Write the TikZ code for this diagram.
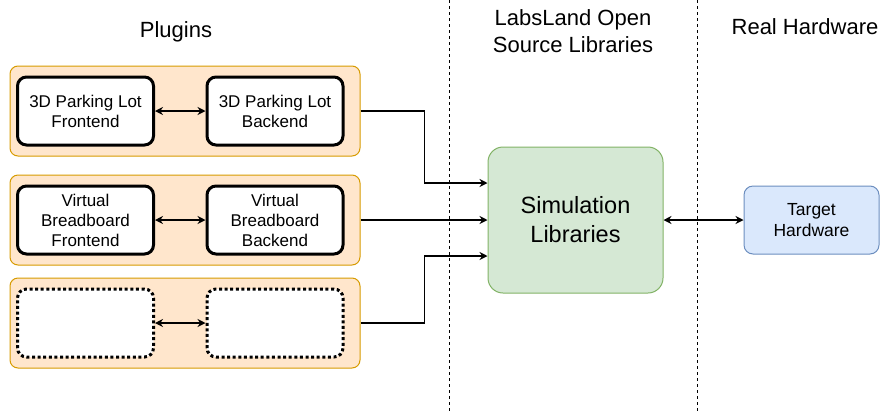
\documentclass[tikz,border=0pt]{standalone}
\usepackage{fontspec}
\setmainfont{Liberation Sans}
\usetikzlibrary{arrows.meta, calc, positioning}
\definecolor{plugFill}{HTML}{FFE6CC}
\definecolor{plugLine}{HTML}{D79B00}
\definecolor{simFill}{HTML}{D5E8D4}
\definecolor{simLine}{HTML}{82B366}
\definecolor{hwFill}{HTML}{DAE8FC}
\definecolor{hwLine}{HTML}{6C8EBF}
\tikzset{
    plugGroup/.style={rectangle, rounded corners=8pt, draw=plugLine, fill=plugFill, line width=1pt, minimum width=350pt, minimum height=90pt},
    plugBox/.style={rectangle, rounded corners=9pt, draw, fill=white, line width=3pt, minimum width=136pt, minimum height=68pt, align=center, font=\fontsize{17}{20}\selectfont},
    plugEmpty/.style={plugBox, dash pattern=on 3pt off 2.6pt},
    simBox/.style={rectangle, rounded corners=15pt, draw=simLine, fill=simFill, line width=1pt, minimum width=175pt, minimum height=146pt, align=center, font=\fontsize{23.5}{29}\selectfont},
    hwBox/.style={rectangle, rounded corners=9pt, draw=hwLine, fill=hwFill, line width=1pt, minimum width=135pt, minimum height=68pt, align=center, font=\fontsize{17.5}{21}\selectfont},
    header/.style={align=center, font=\fontsize{22}{27}\selectfont},
    flowEdge/.style={-{Stealth[length=8pt, width=8pt]}, line width=1.2pt},
    duplexEdge/.style={{Stealth[length=8pt, width=8pt]}-{Stealth[length=8pt, width=8pt]}, line width=1.2pt},
    laneSep/.style={dash pattern=on 3pt off 3pt, line width=1pt},
}
\newcommand{\pluginRow}[5][plugBox]{
    % group, then frontend and backend
    \node[plugGroup] (#2) at (185, #3) {};
    \node[#1] (#2F) at (85.5, #3) {#4};
    \node[#1] (#2B) at (275, #3) {#5};
    \draw[duplexEdge] (#2F) -- (#2B);
}

\begin{document}
\begin{tikzpicture}[x=1pt, y=-1pt]
        \useasboundingbox (0, 0) rectangle (883, 413);

        % lanes
        \draw[laneSep] (449, 0) -- (449, 413);
        \draw[laneSep] (697, 0) -- (697, 413);
        \node[header] (plugTitle) at (176, 32) {Plugins};
        \node[header] (libTitle) at (573, 31) {LabsLand Open\\Source Libraries};
        \node[header] (hwTitle) at (805, 27) {Real Hardware};

        \pluginRow{park}{111}{3D Parking Lot\\Frontend}{3D Parking Lot\\Backend}
        \pluginRow{bread}{220}{Virtual\\Breadboard\\Frontend}{Virtual\\Breadboard\\Backend}
        \pluginRow[plugEmpty]{blank}{323}{}{}

        \node[simBox] (sim) at (575.5, 220) {Simulation\\Libraries};
        \node[hwBox] (target) at (811.5, 220) {Target\\Hardware};

        \draw[flowEdge] (park.east) -- ++(64, 0) |- ($(sim.west)+(0, -37)$);
        \draw[flowEdge] (bread.east) -- (sim.west);
        \draw[flowEdge] (blank.east) -- ++(64, 0) |- ($(sim.west)+(0, 36)$);
        \draw[duplexEdge] (sim.east) -- (target.west);

    \end{tikzpicture}
\end{document}
